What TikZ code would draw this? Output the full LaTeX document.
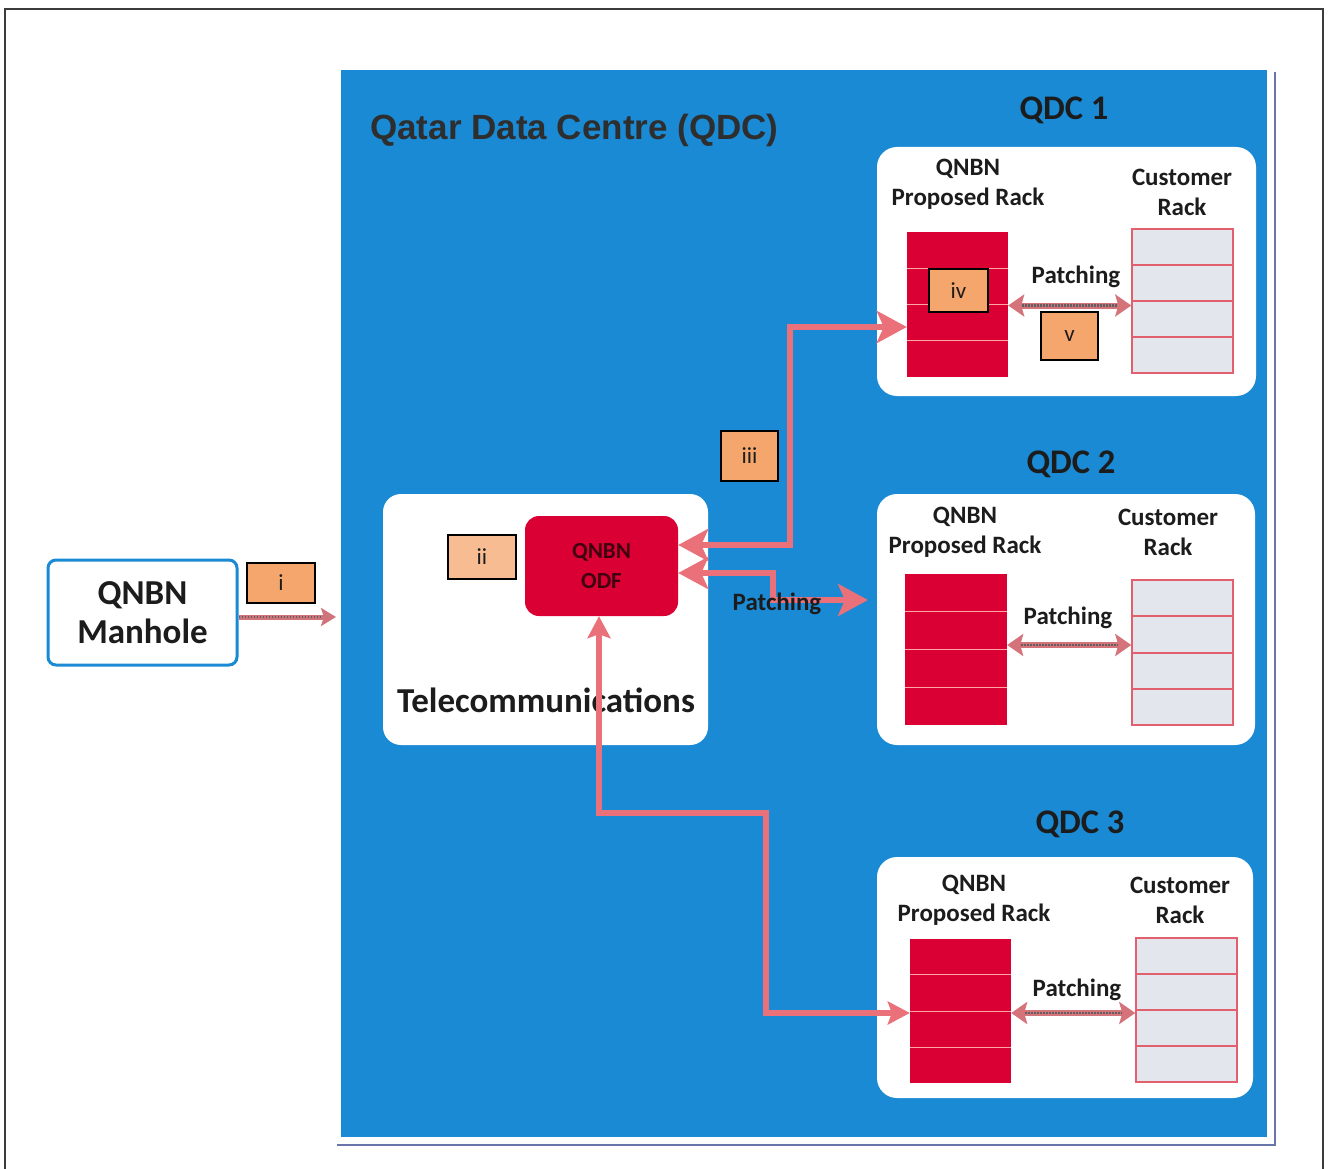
\documentclass[tikz,border=0pt]{standalone}
\usepackage{fontspec}
\setmainfont{Carlito}
\newfontfamily\arialf{Liberation Sans}
\usetikzlibrary{arrows.meta,calc}
\definecolor{qblue}{RGB}{26,138,212}
\definecolor{qred}{RGB}{218,0,52}
\definecolor{apink}{RGB}{234,112,122}
\definecolor{boxor}{RGB}{244,166,108}
\definecolor{cgray}{RGB}{228,230,238}
\definecolor{cline}{RGB}{226,96,110}
\definecolor{txt}{RGB}{28,28,28}
\definecolor{shadowl}{RGB}{104,116,170}
\definecolor{framec}{RGB}{60,60,60}
\begin{document}
\begin{tikzpicture}[x=1pt,y=-1pt,
  panel/.style={fill=white, rounded corners=20pt},
  qrack/.style={fill=qred, minimum width=101pt, minimum height=145pt, inner sep=0pt},
  crack/.style={fill=cgray, draw=cline, line width=1.5pt, minimum width=101pt, minimum height=144pt, inner sep=0pt},
  qdiv/.style={draw=red!35!white, line width=1pt},
  cdiv/.style={draw=cline, line width=2pt},
  tagbox/.style={draw=black, line width=2pt, fill=boxor, inner sep=0pt, font=\fontsize{23}{23}\selectfont, text=txt},
  lbl/.style={font=\bfseries\fontsize{25}{30}\selectfont, align=center, text=txt, inner sep=0pt},
  qdc/.style={font=\bfseries\fontsize{34.5}{34.5}\selectfont, text=txt, inner sep=0pt},
  conn/.style={draw=apink, line width=6pt},
  bighead/.style={arrows={Stealth[length=30pt,width=32pt,inset=7pt]-Stealth[length=30pt,width=32pt,inset=7pt]}},
  smallhead/.style={arrows={Stealth[length=22pt,width=23pt,inset=4pt]-Stealth[length=22pt,width=23pt,inset=4pt]}},
  patch/.style={draw=apink!80!gray, line width=6pt, arrows={Stealth[length=16pt,width=22pt,inset=3pt]-Stealth[length=16pt,width=22pt,inset=3pt]}},
  patchdots/.style={draw=gray!75!black, line width=2.5pt, dash pattern=on 1.5pt off 1.5pt, shorten <=14pt, shorten >=14pt}
]
\useasboundingbox (0,0) rectangle (1330,1169);
\fill[white] (0,0) rectangle (1330,1169);
% outer frame
\draw[framec, line width=2pt] (5,1169) -- (5,9) -- (1323,9) -- (1323,1169);
% shadow line and blue area
\draw[shadowl, line width=2pt] (1275,72) -- (1275,1145) -- (337,1145);
\fill[qblue] (341,70) rectangle (1267,1137);
\node[font=\arialf\bfseries\fontsize{35}{35}\selectfont, text=black!82, anchor=west, inner sep=0pt] (title) at (370,130) {Qatar Data Centre (QDC)};

% QDC headings
\node[qdc] (h1) at (1064,110) {QDC 1};
\node[qdc] (h2) at (1071,464) {QDC 2};
\node[qdc] (h3) at (1080,824) {QDC 3};

% panels
\fill[panel] (877,147) rectangle (1256,396);
\fill[panel] (877,494) rectangle (1255,745);
\fill[panel] (877,857) rectangle (1253,1098);
\fill[panel, rounded corners=18pt] (383,494) rectangle (708,745);

% rack labels
\node[lbl] (l1a) at (968,184) {QNBN\\Proposed Rack};
\node[lbl] (l1b) at (1182,192) {Customer\\Rack};
\node[lbl] (l2a) at (965,532) {QNBN\\Proposed Rack};
\node[lbl] (l2b) at (1168,532) {Customer\\Rack};
\node[lbl] (l3a) at (974,900) {QNBN\\Proposed Rack};
\node[lbl] (l3b) at (1180,900) {Customer\\Rack};

% racks
\node[qrack] (q1) at (957.5,304.5) {};
\node[crack] (c1) at (1182.5,301) {};
\node[qrack, minimum height=151pt, minimum width=102pt] (q2) at (956,649.5) {};
\node[crack, minimum height=145pt] (c2) at (1182.5,652.5) {};
\node[qrack, minimum height=144pt] (q3) at (960.5,1011) {};
\node[crack] (c3) at (1186.5,1010) {};
\foreach \r in {q1,q2,q3}{
  \foreach \f in {0.25,0.5,0.75}
    \draw[qdiv] ($(\r.north west)!\f!(\r.south west)$) -- ($(\r.north east)!\f!(\r.south east)$);
}
\foreach \r in {c1,c2,c3}{
  \foreach \f in {0.25,0.5,0.75}
    \draw[cdiv] ($(\r.north west)!\f!(\r.south west)$) -- ($(\r.north east)!\f!(\r.south east)$);
}

% patching between racks
\node[lbl] (p1) at (1076,277) {Patching};
\node[lbl] (p2) at (1068,618) {Patching};
\node[lbl] (p3) at (1077,990) {Patching};
\draw[patch] ([yshift=-1pt]q1.east) -- ([yshift=-1pt]q1.east -| c1.west);
\draw[patchdots] ([yshift=-1pt]q1.east) -- ([yshift=-1pt]q1.east -| c1.west);
\draw[patch] ([yshift=4.5pt]q2.east) -- ([yshift=4.5pt]q2.east -| c2.west);
\draw[patchdots] ([yshift=4.5pt]q2.east) -- ([yshift=4.5pt]q2.east -| c2.west);
\draw[patch] ([yshift=-2pt]q3.east) -- ([yshift=-2pt]q3.east -| c3.west);
\draw[patchdots] ([yshift=-2pt]q3.east) -- ([yshift=-2pt]q3.east -| c3.west);

% tag boxes in QDC1
\node[tagbox, minimum width=59pt, minimum height=43pt] (tiv) at (958.5,290.5) {iv};
\node[tagbox, minimum width=57pt, minimum height=48pt] (tv) at (1069.5,336) {v};

% Telecommunications
\node[font=\bfseries\fontsize{35}{35}\selectfont, text=txt, inner sep=0pt] (tel) at (546,700) {Telecommunications};
\node[fill=qred, rounded corners=14pt, minimum width=153pt, minimum height=100pt, inner sep=0pt,
      font=\bfseries\fontsize{23}{30}\selectfont, text=black!70!qred, align=center] (odf) at (601.5,566) {QNBN\\ODF};
\node[tagbox, fill=boxor!75!white, minimum width=68pt, minimum height=44pt] (tii) at (482,557) {ii};
\node[tagbox, minimum width=57pt, minimum height=50pt] (tiii) at (749.5,456) {iii};

% manhole
\node[draw=qblue, line width=3pt, fill=white, rounded corners=8pt, minimum width=189pt, minimum height=105pt,
      font=\bfseries\fontsize{35}{39}\selectfont, text=txt, align=center, inner sep=0pt] (mh) at (142.5,612.5) {QNBN\\Manhole};
\node[tagbox, minimum width=68pt, minimum height=40pt] (ti) at (281,583) {i};
\coordinate (qin) at (336,617);
\draw[draw=apink!75!gray, line width=5pt, -{Stealth[length=15pt,width=18pt,inset=3pt]}] ([yshift=-4.5pt]mh.east) -- (qin);
\draw[draw=gray!75!black, line width=2pt, dash pattern=on 1.5pt off 1.5pt, shorten >=14pt] ([yshift=-4.5pt]mh.east) -- (qin);

% ODF connectors
\coordinate (p2end) at (868,600);
\draw[conn, bighead] ([yshift=21pt]odf.east) -- (790,545) -- (790,327) -- (q1.west |- 0,327);
\draw[conn, bighead] ([yshift=-7pt]odf.east) -- (773,573) -- (773,600) -- (p2end);
\draw[conn, smallhead] ([xshift=-2.5pt]odf.south) -- (599,813) -- (766,813) -- (766,1013) -- (q3.west |- 0,1013);
\node[lbl] (podf) at (777,604) {Patching};
\end{tikzpicture}
\end{document}
